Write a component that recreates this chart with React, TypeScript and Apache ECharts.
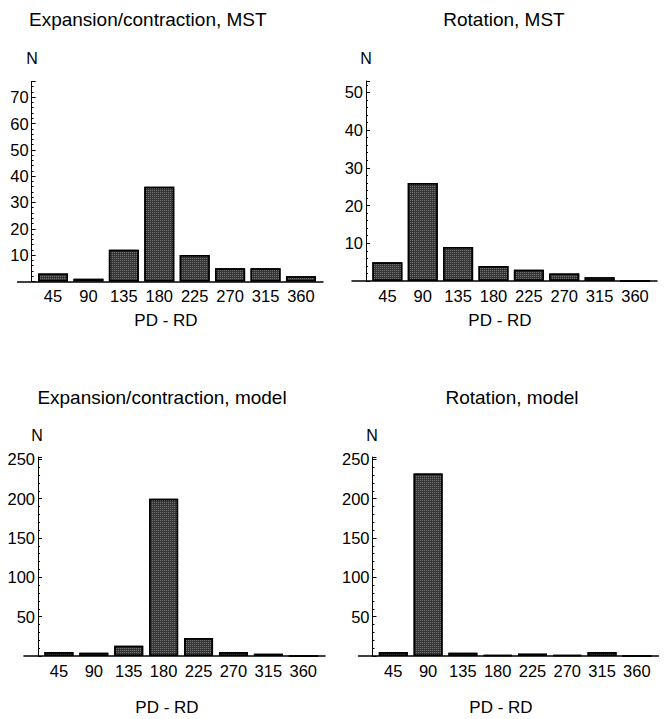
import React, { useEffect, useRef } from "react";
import * as echarts from "echarts";

const categories = [45, 90, 135, 180, 225, 270, 315, 360];
const expansionMST = [3, 1, 12, 36, 10, 5, 5, 2];
const rotationMST = [5, 26, 9, 4, 3, 2, 1, 0];
const expansionModel = [5, 4, 13, 200, 23, 5, 3, 0];
const rotationModel = [5, 232, 4, 1, 3, 1, 5, 0];
const panelTitles = [
  "Expansion/contraction, MST",
  "Rotation, MST",
  "Expansion/contraction, model",
  "Rotation, model",
];
const yMaxes = [76, 53, 253, 253];
const yIntervals = [10, 10, 50, 50];
const xMax = 388;
const xInterval = 45;
const xAxisTitle = "PD - RD";
const yAxisTitle = "N";

const FONT = '"Liberation Sans", Arial, Helvetica, sans-serif';

const layout = [
  { left: 17.6, top: 81.4, width: 305.4, height: 200, barWidth: 30, title: [29, 19, "left"], n: [32, 58], pd: [166, 320] },
  { left: 352, top: 81, width: 305, height: 200, barWidth: 30, title: [504, 19, "center"], n: [366, 58], pd: [500, 320] },
  { left: 24, top: 457, width: 301, height: 199, barWidth: 29, title: [162, 397, "center"], n: [37, 435], pd: [167, 707] },
  { left: 358.5, top: 457, width: 300, height: 199, barWidth: 29, title: [512, 397, "center"], n: [372, 435], pd: [501, 707] },
];

const seriesValues = [expansionMST, rotationMST, expansionModel, rotationModel];

export default function App() {
  const ref = useRef<HTMLDivElement>(null);
  useEffect(() => {
    if (!ref.current) return;
    const chart = echarts.init(ref.current, undefined, { renderer: "svg" });
    const grids: any[] = [];
    const xAxes: any[] = [];
    const yAxes: any[] = [];
    const series: any[] = [];
    const graphics: any[] = [];
    layout.forEach((p, i) => {
      grids.push({ left: p.left, top: p.top, width: p.width, height: p.height, containLabel: false });
      xAxes.push({
        type: "value",
        gridIndex: i,
        min: 0,
        max: xMax,
        interval: xInterval,
        axisLine: { show: true, onZero: false, lineStyle: { color: "#000", width: 1.5 } },
        axisTick: { show: false },
        splitLine: { show: false },
        axisLabel: {
          color: "#000",
          fontSize: 16.5,
          fontFamily: FONT,
          margin: 6,
          showMinLabel: false,
          showMaxLabel: false,
          formatter: (v: number) => (v > 0 && v % xInterval === 0 ? String(v) : ""),
        },
      });
      yAxes.push({
        type: "value",
        gridIndex: i,
        min: 0,
        max: yMaxes[i],
        interval: yIntervals[i],
        offset: -14,
        axisLine: { show: true, onZero: false, lineStyle: { color: "#000", width: 1 } },
        axisTick: { show: true, inside: true, length: 4, lineStyle: { color: "#000" } },
        minorTick: { show: true, splitNumber: 5, length: 2, lineStyle: { color: "#000" } },
        splitLine: { show: false },
        axisLabel: {
          color: "#000",
          fontSize: 16.5,
          fontFamily: FONT,
          margin: 3,
          formatter: (v: number) => (v > 0 && v % yIntervals[i] === 0 ? String(v) : ""),
        },
      });
      series.push({
        type: "bar",
        xAxisIndex: i,
        yAxisIndex: i,
        barWidth: p.barWidth,
        data: categories.map((c, k) => [c, seriesValues[i][k]]),
        itemStyle: {
          color: "#363636",
          borderColor: "#000",
          borderWidth: 1.5,
          decal: {
            symbol: "rect",
            symbolSize: 1,
            dashArrayX: [1, 1],
            dashArrayY: [1, 1],
            color: "rgba(255,255,255,0.3)",
          },
        },
      });
      graphics.push({
        type: "text",
        x: p.title[0],
        y: p.title[1],
        style: {
          text: panelTitles[i],
          fontSize: 19,
          fontFamily: FONT,
          fill: "#000",
          align: p.title[2],
          verticalAlign: "middle",
        },
      });
      graphics.push({
        type: "text",
        x: p.n[0],
        y: p.n[1],
        style: { text: yAxisTitle, fontSize: 16, fontFamily: FONT, fill: "#000", align: "center", verticalAlign: "middle" },
      });
      graphics.push({
        type: "text",
        x: p.pd[0],
        y: p.pd[1],
        style: { text: xAxisTitle, fontSize: 17, fontFamily: FONT, fill: "#000", align: "center", verticalAlign: "middle" },
      });
    });
    chart.setOption({
      animation: false,
      backgroundColor: "#fff",
      grid: grids,
      xAxis: xAxes,
      yAxis: yAxes,
      series,
      graphic: graphics,
    });
    return () => chart.dispose();
  }, []);
  return (
    <div
      ref={ref}
      style={{ position: "absolute", left: 0, top: 0, width: 667, height: 719, background: "#fff" }}
    />
  );
}
